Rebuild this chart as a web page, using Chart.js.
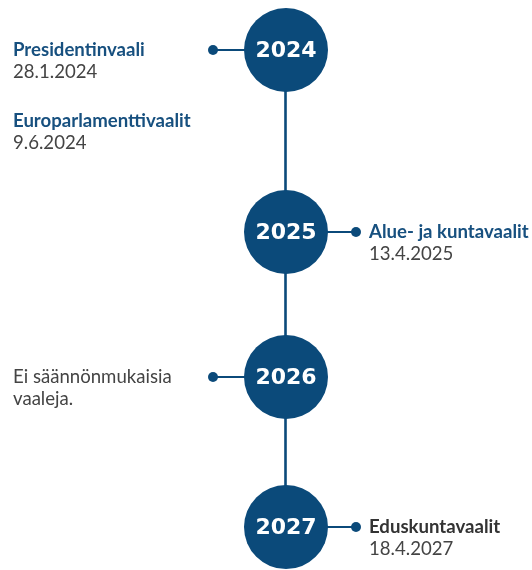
<!DOCTYPE html>
<html lang="fi">
<head>
    <meta charset="UTF-8">
    <title>Vaalit 2024-2027</title>
    <script src="https://cdn.jsdelivr.net/npm/chart.js"></script>
    <style>
        body { margin: 0; background: #fff; }
        #wrap { width: 532px; height: 570px; }
    </style>
</head>
<body>
<div id="wrap">
    <canvas id="myChart"></canvas>
</div>
<script>
    // vuodet ja niiden paikka aikajanalla
    const years = ['2024', '2025', '2026', '2027'];
    const yearRows = [0, 1.255, 2.255, 3.29];

    // vaalit
    const eventTitles = ['Presidentinvaali', 'Europarlamenttivaalit', 'Alue- ja kuntavaalit', 'Ei säännönmukaisia', 'Eduskuntavaalit'];
    const eventDates = ['28.1.2024', '9.6.2024', '13.4.2025', 'vaaleja.', '18.4.2027'];
    const eventRows = [0, 0.49, 1.255, 2.255, 3.29];
    const eventSide = ['left', 'left', 'right', 'left', 'right'];
    const eventHasDot = [true, false, true, true, true];
    const eventBoldTitle = [true, true, true, false, true];
    const eventTitleColor = ['#17507f', '#17507f', '#17507f', '#444444', '#333333'];

    const BLUE = '#0b4a7a';
    const CENTER_X = 286;
    const LEFT_DOT = 213;
    const RIGHT_DOT = 356;

    const datasets = [];

    // ympyrät
    datasets.push({
        type: 'scatter',
        data: yearRows.map(r => ({x: CENTER_X, y: r})),
        pointRadius: 42,
        pointHoverRadius: 42,
        backgroundColor: BLUE,
        borderWidth: 0
    });

    // viivat vuodesta tapahtumaan
    for (let i = 0; i < eventRows.length; i++) {
        if (!eventHasDot[i]) continue;
        const dotX = eventSide[i] === 'left' ? LEFT_DOT : RIGHT_DOT;
        datasets.push({
            type: 'line',
            data: [{x: dotX, y: eventRows[i]}, {x: CENTER_X, y: eventRows[i]}],
            borderColor: BLUE,
            borderWidth: 2,
            pointRadius: [5, 0],
            pointBackgroundColor: BLUE,
            pointBorderWidth: 0
        });
    }

    // pystyviiva
    datasets.push({
        type: 'line',
        data: [{x: CENTER_X - 0.5, y: yearRows[0]}, {x: CENTER_X - 0.5, y: yearRows[yearRows.length - 1]}],
        borderColor: BLUE,
        borderWidth: 2.6,
        pointRadius: 0
    });

    const textPlugin = {
        id: 'texts',
        afterDatasetsDraw(chart) {
            const ctx = chart.ctx;
            const xs = chart.scales.x;
            const ys = chart.scales.y;
            ctx.save();
            ctx.textBaseline = 'middle';

            ctx.fillStyle = '#fff';
            ctx.textAlign = 'center';
            ctx.font = 'bold 22px "DejaVu Sans"';
            for (let i = 0; i < years.length; i++) {
                ctx.fillText(years[i], xs.getPixelForValue(CENTER_X), ys.getPixelForValue(yearRows[i]) + 1);
            }

            ctx.textAlign = 'left';
            for (let i = 0; i < eventTitles.length; i++) {
                const x = eventSide[i] === 'left' ? 13 : 369;
                const y = ys.getPixelForValue(eventRows[i]);
                ctx.font = (eventBoldTitle[i] ? 'bold ' : '') + '18.6px Lato';
                ctx.fillStyle = eventTitleColor[i];
                ctx.fillText(eventTitles[i], x, y);
                ctx.font = '18.6px Lato';
                ctx.fillStyle = '#444444';
                ctx.fillText(eventDates[i], x, y + 22);
            }
            ctx.restore();
        }
    };

    new Chart(document.getElementById('myChart'), {
        data: {datasets: datasets},
        options: {
            responsive: true,
            maintainAspectRatio: false,
            animation: false,
            layout: {padding: 0, autoPadding: false},
            plugins: {legend: {display: false}, tooltip: {enabled: false}},
            scales: {
                x: {type: 'linear', min: 0, max: 532, display: false},
                y: {type: 'linear', min: -0.345, max: 3.586, reverse: true, display: false}
            }
        },
        plugins: [textPlugin]
    });
</script>
</body>
</html>
